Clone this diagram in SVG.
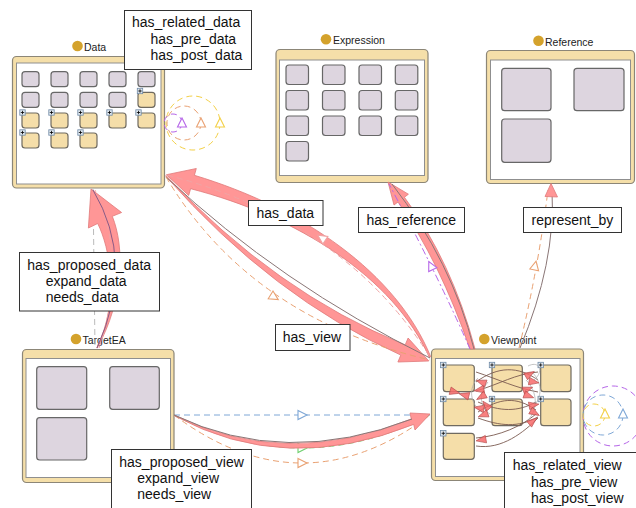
<svg xmlns="http://www.w3.org/2000/svg" width="636" height="508" viewBox="0 0 636 508">
<defs>
<style>
.outer{fill:#f5dfa9;stroke:#8c8677;stroke-width:1.2}
.inner{fill:#fff;stroke:#8f8f8f;stroke-width:1}
.pb{fill:#ddd5df;stroke:#676767;stroke-width:1.2}
.tb{fill:#f5dea9;stroke:#6f6a60;stroke-width:1.2}
.title{font-family:"Liberation Sans",Arial,sans-serif;font-size:10.5px;fill:#222}
.dot{fill:#d4a22c}
.lbl rect{fill:#fff;stroke:#333;stroke-width:1}
.lbl text{font-family:"Liberation Sans",Arial,sans-serif;font-size:14px;fill:#111}
.big{fill:#ff9696;stroke:#e07a7a;stroke-width:0.8;stroke-linejoin:round}
.ln{fill:none;stroke-width:1}
.grey{stroke:#8a7676}
.d{stroke-dasharray:6,4}
.pink{stroke:#f0a4a4}
.orange{stroke:#e9a172}
.purple{stroke:#b565e8}
.yellow{stroke:#f3d046}
.blue{stroke:#7ea7d6}
.green{stroke:#6fd06f}
.tri{fill:#fff;stroke-width:1.1}
.rh{fill:#f76a6a;fill-opacity:0.85;stroke:#b04848;stroke-width:0.6}
.ic{fill:none;stroke:#7a5a50;stroke-width:0.9}
.il{fill:none;stroke:#aaa;stroke-width:0.7}
</style>
<g id="plus"><rect x="-2.7" y="-2.7" width="5.4" height="5.4" fill="#dfe6ee" stroke="#6f8aa6" stroke-width="0.8"/><path d="M-1.7,0H1.7M0,-1.7V1.7" stroke="#000" stroke-width="0.8"/></g>
<polygon id="tri" points="-4,-4.5 5,0 -4,4.5"/>
<polygon id="rh" points="-5,-3.8 5,0 -5,3.8"/>
</defs>
<rect width="636" height="508" fill="#fff"/>

<g id="node-data">
<circle class="dot" cx="77.5" cy="46" r="5.3"/>
<text class="title" x="84" y="50.5">Data</text>
<rect class="outer" x="12.5" y="56.5" width="152" height="131.5" rx="4"/>
<rect class="inner" x="16.5" y="63" width="144.5" height="121"/>
<rect class="pb" x="22" y="71.7" width="17" height="15" rx="3"/>
<rect class="pb" x="51" y="71.7" width="17" height="15" rx="3"/>
<rect class="pb" x="80" y="71.7" width="17" height="15" rx="3"/>
<rect class="pb" x="109" y="71.7" width="17" height="15" rx="3"/>
<rect class="pb" x="138" y="71.7" width="17" height="15" rx="3"/>
<rect class="pb" x="22" y="92.3" width="17" height="15" rx="3"/>
<rect class="pb" x="51" y="92.3" width="17" height="15" rx="3"/>
<rect class="pb" x="80" y="92.3" width="17" height="15" rx="3"/>
<rect class="pb" x="109" y="92.3" width="17" height="15" rx="3"/>
<rect class="tb" x="138" y="92.3" width="17" height="15" rx="3"/>
<rect class="tb" x="22" y="113" width="17" height="15" rx="3"/>
<rect class="tb" x="51" y="113" width="17" height="15" rx="3"/>
<rect class="tb" x="80" y="113" width="17" height="15" rx="3"/>
<rect class="tb" x="109" y="113" width="17" height="15" rx="3"/>
<rect class="tb" x="138" y="113" width="17" height="15" rx="3"/>
<rect class="tb" x="22" y="133" width="17" height="15" rx="3"/>
<rect class="tb" x="51" y="133" width="17" height="15" rx="3"/>
<rect class="tb" x="80" y="133" width="17" height="15" rx="3"/>
<use href="#plus" x="140" y="91"/>
<use href="#plus" x="22.5" y="112.5"/>
<use href="#plus" x="51.5" y="112.5"/>
<use href="#plus" x="80.5" y="112.5"/>
<use href="#plus" x="109.5" y="112.5"/>
<use href="#plus" x="138.5" y="112.5"/>
<use href="#plus" x="22.5" y="132.5"/>
<use href="#plus" x="51.5" y="132.5"/>
<use href="#plus" x="80.5" y="132.5"/>
</g>

<g id="node-expression">
<circle class="dot" cx="326" cy="39.3" r="5.3"/>
<text class="title" x="333" y="44">Expression</text>
<rect class="outer" x="276" y="49.5" width="152" height="133" rx="4"/>
<rect class="inner" x="279.5" y="60" width="145" height="115.5"/>
<rect class="pb" x="286" y="65" width="22.5" height="19.5" rx="3"/>
<rect class="pb" x="322.5" y="65" width="22.5" height="19.5" rx="3"/>
<rect class="pb" x="359" y="65" width="22.5" height="19.5" rx="3"/>
<rect class="pb" x="395.3" y="65" width="22.5" height="19.5" rx="3"/>
<rect class="pb" x="286" y="90.5" width="22.5" height="19.5" rx="3"/>
<rect class="pb" x="322.5" y="90.5" width="22.5" height="19.5" rx="3"/>
<rect class="pb" x="359" y="90.5" width="22.5" height="19.5" rx="3"/>
<rect class="pb" x="395.3" y="90.5" width="22.5" height="19.5" rx="3"/>
<rect class="pb" x="286" y="116" width="22.5" height="19.5" rx="3"/>
<rect class="pb" x="322.5" y="116" width="22.5" height="19.5" rx="3"/>
<rect class="pb" x="359" y="116" width="22.5" height="19.5" rx="3"/>
<rect class="pb" x="395.3" y="116" width="22.5" height="19.5" rx="3"/>
<rect class="pb" x="286" y="141.5" width="22.5" height="19.5" rx="3"/>
</g>

<g id="node-reference">
<circle class="dot" cx="538.5" cy="40.7" r="5.3"/>
<text class="title" x="545" y="45.5">Reference</text>
<rect class="outer" x="486.5" y="50.5" width="148" height="133" rx="4"/>
<rect class="inner" x="490.5" y="60" width="140" height="119.5"/>
<rect class="pb" x="501.7" y="68.3" width="49.3" height="42.4" rx="3"/>
<rect class="pb" x="574" y="68.3" width="50" height="42.4" rx="3"/>
<rect class="pb" x="501.7" y="119" width="49.3" height="43.3" rx="3"/>
</g>

<g id="node-targetea">
<circle class="dot" cx="76" cy="339" r="5.3"/>
<text class="title" x="82.5" y="343.5">TargetEA</text>
<rect class="outer" x="22.5" y="349.5" width="151.5" height="133" rx="4"/>
<rect class="inner" x="26" y="358.5" width="144.5" height="119"/>
<rect class="pb" x="36.7" y="366.7" width="50" height="42.6" rx="3"/>
<rect class="pb" x="109.7" y="366.7" width="49.6" height="42.6" rx="3"/>
<rect class="pb" x="36.7" y="417.7" width="50" height="42.3" rx="3"/>
</g>

<g id="node-viewpoint">
<circle class="dot" cx="484.3" cy="339" r="5.3"/>
<text class="title" x="491" y="343.5">Viewpoint</text>
<rect class="outer" x="431.5" y="349" width="152" height="131.5" rx="4"/>
<rect class="inner" x="435.5" y="358.5" width="144.5" height="118"/>
<rect class="tb" x="443.3" y="365" width="31" height="26.7" rx="3"/>
<rect class="tb" x="492" y="365" width="30.3" height="26.7" rx="3"/>
<rect class="tb" x="540.7" y="365" width="30.3" height="26.7" rx="3"/>
<rect class="tb" x="443.3" y="399" width="31" height="26.7" rx="3"/>
<rect class="tb" x="492" y="399" width="30.3" height="26.7" rx="3"/>
<rect class="tb" x="540.7" y="399" width="30.3" height="26.7" rx="3"/>
<rect class="tb" x="443.3" y="433.3" width="31" height="26" rx="3"/>
<use href="#plus" x="443.3" y="365"/>
<use href="#plus" x="492" y="365"/>
<use href="#plus" x="540.7" y="365"/>
<use href="#plus" x="443.3" y="399"/>
<use href="#plus" x="492" y="399"/>
<use href="#plus" x="540.7" y="399"/>
<use href="#plus" x="443.3" y="433.3"/>
</g>

<g id="connectors">
<!-- Data self loops -->
<circle class="ln d yellow" cx="193" cy="123" r="27"/>
<circle class="ln d orange" cx="184" cy="123" r="17"/>
<circle class="ln d purple" cx="173" cy="123" r="9"/>
<use href="#tri" class="tri purple" transform="translate(182,123) rotate(-90)"/>
<use href="#tri" class="tri orange" transform="translate(201,123) rotate(-90)"/>
<use href="#tri" class="tri yellow" transform="translate(220,123) rotate(-90)"/>
<!-- Viewpoint self loops -->
<circle class="ln d purple" cx="613" cy="416" r="30"/>
<circle class="ln d blue" cx="603" cy="415" r="20"/>
<circle class="ln d yellow" cx="594" cy="415" r="11"/>
<use href="#tri" class="tri yellow" transform="translate(605,414) rotate(-90)"/>
<use href="#tri" class="tri blue" transform="translate(623,414) rotate(-90)"/>

<!-- has_data (Viewpoint -> Data) -->
<path class="big" d="M430.7,356.7 C396.5,272.7 302.7,207.9 194.4,175.3 L196.3,168.5 L166.5,174.7 L188.7,195.5 L190.6,188.7 C297.3,216.1 393.5,277.3 429.3,357.3 Z"/>
<path class="ln d pink" d="M167,175 Q345,221 430,357"/>
<use href="#tri" class="tri pink" transform="translate(322,238) rotate(214)"/>
<!-- has_view (Data -> Viewpoint) -->
<path class="big" d="M166,175.5 Q275.7,292.8 405.2,344.9 L408.1,338 L428.8,361 L397.9,362 L400.8,355.1 Q272.3,297.2 166,176.5 Z"/>
<path class="ln grey" d="M166,177 Q280,284 430,358"/>
<path class="ln d orange" d="M166,177 Q250,318 430,360"/>
<use href="#tri" class="tri orange" transform="translate(274,297) rotate(32)"/>

<!-- has_reference -->
<path class="big" d="M388,182 L408.4,194.2 L404.4,197.2 Q452,262 475,349 L470,349 Q440,262 398,202 L394,205 Z"/>
<path class="ln grey" d="M474,349 Q452,262 392,184"/>
<path class="ln purple" stroke-dasharray="7,3,2,3" d="M470,349 Q440,280 389,184"/>
<use href="#tri" class="tri purple" transform="translate(431,266) rotate(-116)"/>

<!-- represent_by -->
<path class="ln grey" d="M520,348 Q556,262 552,190"/>
<path class="ln d orange" d="M519,348 Q538,270 548,190"/>
<use href="#tri" class="tri orange" transform="translate(535,266) rotate(-78)"/>
<path class="big" d="M551,183.5 L557.5,197 L545,196.5 Z"/>

<!-- has_proposed_data (TargetEA -> Data) -->
<path class="ln d" stroke="#bbb" d="M93,189 L95,348"/>
<path class="big" d="M97.2,348.1 C123.9,299.8 124.8,247.1 112.3,216.3 L121.6,212.5 L91,189 L88.4,228 L97.7,223.5 C109.8,247.7 120.1,300.2 96.8,347.9 Z"/>
<path class="ln d pink" d="M99,348 Q128,262 95,190"/>
<path class="ln" stroke="#8a5a86" d="M97,348 Q136,262 93,190"/>

<!-- has_proposed_view (TargetEA -> Viewpoint) -->
<path class="ln d blue" d="M174,415 L430,415"/>
<use href="#tri" class="tri blue" transform="translate(302,415)"/>
<path class="ln d orange" d="M174,415 Q302,511 430,415"/>
<use href="#tri" class="tri orange" transform="translate(302,463)"/>
<path class="ln d green" d="M174,415 Q302,481 430,415"/>
<use href="#tri" class="tri green" transform="translate(302,448)"/>
<path class="big" d="M174,415 Q285,470 411.3,419 L410,413 L430,414 L415,430 L413.7,424.4 Q285,476 175,416 Z"/>
<path class="ln grey" d="M174,415 Q285,468 412,419"/>

<!-- Viewpoint internal connectors -->
<path class="ic" d="M476,382 C498,366 518,366 538,380"/>
<path class="ic" d="M476,391 C500,384 515,374 538,372"/>
<path class="ic" d="M476,372 C500,380 516,388 538,392"/>
<path class="ic" d="M478,402 C500,412 518,412 536,402"/>
<path class="ic" d="M478,412 C500,398 516,396 536,410"/>
<path class="ic" d="M478,418 C500,426 518,428 538,417"/>
<path class="ic" d="M476,446 C502,450 524,432 538,418"/>
<path class="ic" d="M476,438 C500,436 522,426 536,414"/>
<path class="il" d="M478,378 C468,388 470,404 482,412"/>
<path class="il" d="M488,382 C478,394 480,408 490,414"/>
<path class="il" d="M532,372 C544,384 542,400 530,410"/>
<path class="il" d="M526,380 C538,392 538,410 528,420"/>
<path class="il" d="M528,366 C540,360 544,372 534,380"/>
<use href="#rh" class="rh" transform="translate(481,382) rotate(200)"/>
<use href="#rh" class="rh" transform="translate(479,390) rotate(170)"/>
<use href="#rh" class="rh" transform="translate(481,397) rotate(150)"/>
<use href="#rh" class="rh" transform="translate(479,408) rotate(190)"/>
<use href="#rh" class="rh" transform="translate(486,405) rotate(230)"/>
<use href="#rh" class="rh" transform="translate(483,415) rotate(160)"/>
<use href="#rh" class="rh" transform="translate(530,374) rotate(-30)"/>
<use href="#rh" class="rh" transform="translate(534,382) rotate(10)"/>
<use href="#rh" class="rh" transform="translate(528,389) rotate(-20)"/>
<use href="#rh" class="rh" transform="translate(529,396) rotate(20)"/>
<use href="#rh" class="rh" transform="translate(534,405) rotate(-10)"/>
<use href="#rh" class="rh" transform="translate(535,413) rotate(30)"/>
<use href="#rh" class="rh" transform="translate(533,421) rotate(-40)"/>
<use href="#rh" class="rh" transform="translate(481,440) rotate(170)"/>
<use href="#rh" class="rh" transform="translate(455,392) rotate(15)"/>
<use href="#rh" class="rh" transform="translate(464,395) rotate(195)"/>
</g>

<g id="connector-labels">
<g class="lbl" id="lbl-data-related"><rect x="124.5" y="10.5" width="127" height="59"/>
<text x="132" y="27">has_related_data</text><text x="150.5" y="43.5">has_pre_data</text><text x="150.5" y="60">has_post_data</text></g>
<g class="lbl" id="lbl-has-data"><rect x="248.5" y="200.5" width="74.5" height="25"/><text x="256.5" y="217.5">has_data</text></g>
<g class="lbl" id="lbl-has-reference"><rect x="358.5" y="207.5" width="106" height="25"/><text x="366.5" y="224.5">has_reference</text></g>
<g class="lbl" id="lbl-represent-by"><rect x="523.5" y="207.5" width="98" height="25"/><text x="531.5" y="224.5">represent_by</text></g>
<g class="lbl" id="lbl-proposed-data"><rect x="19.5" y="252.5" width="140" height="58.5"/>
<text x="27.3" y="270">has_proposed_data</text><text x="45.7" y="286">expand_data</text><text x="45.7" y="302">needs_data</text></g>
<g class="lbl" id="lbl-has-view"><rect x="275.5" y="324.5" width="74.5" height="26"/><text x="282.7" y="342">has_view</text></g>
<g class="lbl" id="lbl-proposed-view"><rect x="111.5" y="449.5" width="140" height="62"/>
<text x="119.3" y="466.5">has_proposed_view</text><text x="137.3" y="483">expand_view</text><text x="137.3" y="499.3">needs_view</text></g>
<g class="lbl" id="lbl-view-related"><rect x="504.5" y="452.5" width="140" height="62"/>
<text x="512.7" y="470">has_related_view</text><text x="531" y="486.5">has_pre_view</text><text x="531" y="502.8">has_post_view</text></g>
</g>
</svg>
